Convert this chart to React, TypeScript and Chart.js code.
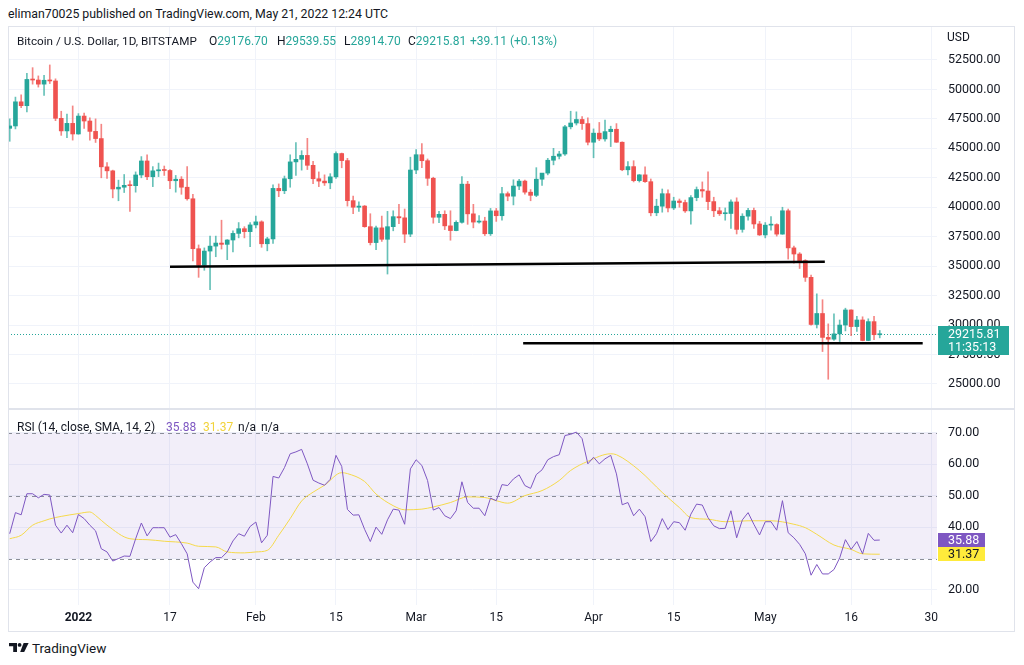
import React, { useEffect, useRef } from 'react';
import { Chart, registerables } from 'chart.js';

Chart.register(...registerables);
Chart.defaults.font.family = 'Roboto, sans-serif';

// ---------- data (daily candles, Dec 20 2021 = index 0 ... May 21 2022 = index 152) ----------
const opens = [
  46700, 46900, 48950, 48620, 50850, 50800, 50450, 50780, 50720, 47550, 46480, 47120,
  46220, 47740, 47320, 46440, 45830, 43430, 43090, 41550, 41700, 41860, 41830, 42740, 43930, 42590, 43090, 43180, 43120, 42250, 42380, 41700, 40720, 36480, 35080, 36280, 36700, 36960, 36850, 37220, 37780, 38180, 37930,
  38500, 38760, 36900, 37310, 41600, 41400, 42420, 43850, 44070, 44400, 43560, 42420, 42220, 42070, 42580, 44560, 43960, 40560, 40000, 40100, 38350, 37000, 38250, 37280, 38350, 39200, 39100, 37720,
  43160, 44460, 43950, 42460, 39150, 39400, 38420, 38020, 38720, 41960, 39440, 38740, 38830, 37750, 39690, 39280, 41150, 40940, 41800, 42220, 41280, 41010, 42380, 42900, 43990, 44330, 44520, 46830, 47150, 47450, 47100,
  45520, 46290, 45800, 46420, 46620, 45520, 43180, 43450, 42260, 42750, 42170, 39530, 40090, 41150, 39940, 40530, 40400, 39690, 40820, 41500, 41380, 40480, 39700, 39450, 39470, 40450, 38120, 39240, 39730, 38580,
  37650, 38480, 38530, 37720, 39700, 36550, 36030, 35470, 34050, 30050, 30980, 28950, 28800, 29250, 30000, 31280, 29870, 30430, 28690, 30290, 29176.7,
];
const highs = [
  47500, 49350, 49550, 51370, 51850, 51150, 51200, 52080, 50900, 48150, 47900, 48600,
  47950, 47990, 47600, 47500, 47050, 43800, 43150, 42300, 42780, 42250, 43000, 44300, 44450, 43450, 43750, 43500, 43200, 42700, 42600, 43450, 41100, 36800, 36550, 37550, 37550, 38900, 37250, 38000, 38700, 38350, 38700,
  39250, 38850, 37450, 41900, 41980, 42650, 44450, 45480, 44800, 45850, 43900, 43000, 42750, 42850, 44700, 44600, 44150, 40950, 40450, 40150, 39450, 38400, 39250, 39650, 39700, 40250, 39850, 44250,
  44900, 45400, 44100, 42550, 39650, 39700, 39700, 38850, 42600, 42200, 40250, 39300, 39150, 39900, 39900, 41700, 41300, 42330, 42370, 42300, 41500, 43360, 42850, 44150, 45000, 44750, 46950, 48150, 48100, 47700, 47600,
  46650, 47200, 47400, 46880, 47100, 45550, 43880, 43950, 42780, 43430, 42400, 40680, 41550, 41480, 40850, 40700, 40600, 41000, 41720, 42150, 43000, 40850, 39980, 39940, 40620, 40800, 39450, 39900, 39930, 38800,
  38700, 39200, 38600, 40000, 39850, 36700, 36150, 35550, 34250, 32650, 32150, 30100, 30950, 30430, 31430, 31300, 30750, 30700, 30530, 30750, 29539.55,
];
const lows = [
  45600, 46650, 48450, 48100, 50450, 50200, 49500, 50500, 47350, 46100, 45900, 45700,
  46200, 46700, 45700, 45500, 42500, 42450, 40800, 40550, 41250, 39650, 41280, 42500, 42350, 41750, 42600, 42700, 41580, 41280, 41100, 40600, 35450, 34050, 34650, 33000, 35800, 36450, 35550, 36200, 37400, 37400, 36650,
  38250, 36600, 36300, 36920, 40900, 41150, 41700, 42700, 43150, 43200, 42000, 41750, 41850, 41570, 42450, 43350, 40100, 39450, 39650, 38300, 36800, 36400, 37100, 34330, 38000, 38600, 37000, 37500,
  42850, 43350, 41850, 38650, 38700, 38100, 37200, 38000, 38650, 38550, 38250, 38650, 37600, 37600, 38800, 38900, 40550, 40200, 41500, 41100, 40550, 40900, 41850, 42750, 43600, 44100, 44400, 46650, 46980, 46600, 45300,
  44200, 45650, 45600, 45150, 45500, 43100, 42750, 42150, 42140, 42100, 39270, 39280, 39580, 39600, 39800, 40000, 39560, 38560, 40550, 40850, 39800, 39200, 39300, 38900, 38200, 37730, 37880, 38900, 38200, 37600,
  37400, 38050, 37550, 37700, 35600, 35250, 34800, 33700, 30000, 29750, 27750, 25400, 28700, 28600, 29500, 29100, 29450, 28660, 28670, 28750, 28914.7,
];
const closes = [
  46900, 48950, 48620, 50850, 50800, 50450, 50780, 50720, 47550, 46480, 47120, 46220,
  47740, 47320, 46440, 45830, 43430, 43090, 41550, 41700, 41860, 41830, 42740, 43930, 42590, 43090, 43180, 43120, 42250, 42380, 41700, 40720, 36480, 35080, 36280, 36700, 36960, 36850, 37220, 37780, 38180, 37930, 38500,
  38760, 36900, 37310, 41600, 41400, 42420, 43850, 44070, 44400, 43560, 42420, 42220, 42070, 42580, 44560, 43960, 40560, 40000, 40100, 38350, 37000, 38250, 37280, 38350, 39200, 39100, 37720, 43160,
  44460, 43950, 42460, 39150, 39400, 38420, 38020, 38720, 41960, 39440, 38740, 38830, 37750, 39690, 39280, 41150, 40940, 41800, 42220, 41280, 41010, 42380, 42900, 43990, 44330, 44520, 46830, 47150, 47450, 47100, 45520,
  46290, 45800, 46420, 46620, 45520, 43180, 43450, 42260, 42750, 42170, 39530, 40090, 41150, 39940, 40530, 40400, 39690, 40820, 41500, 41380, 40480, 39700, 39450, 39470, 40450, 38120, 39240, 39730, 38580, 37650,
  38480, 38530, 37720, 39700, 36550, 36030, 35470, 34050, 30050, 30980, 28950, 28800, 29250, 30000, 31280, 29870, 30430, 28690, 30290, 29180, 29215.81,
];

const rsiValues = [
  37.9, 44.6, 43.9, 50.6, 50.6, 49.3, 50.4, 50.2, 40.6, 38.1, 40.6, 38.2,
  44.0, 42.7, 40.6, 38.8, 33.1, 32.1, 29.2, 30.0, 30.8, 30.7, 36.3, 41.3, 37.2, 39.8, 39.8, 39.8, 36.8, 37.6, 34.7, 31.5, 22.5, 20.4, 27.1, 28.9, 30.3, 30.3, 32.1, 35.6, 37.9, 37.1, 40.2,
  41.6, 35.0, 37.4, 56.1, 55.6, 58.9, 63.3, 63.9, 64.7, 60.1, 54.9, 54.0, 53.3, 55.2, 62.8, 59.3, 45.6, 43.8, 43.9, 39.3, 35.4, 40.0, 37.7, 42.3, 45.7, 45.4, 40.9, 58.5,
  61.4, 59.6, 54.8, 45.4, 46.2, 43.6, 42.7, 45.2, 54.4, 47.8, 46.0, 46.0, 43.6, 49.2, 48.4, 53.5, 53.2, 55.3, 56.6, 53.2, 52.3, 56.7, 58.2, 61.4, 62.4, 63.0, 69.1, 69.5, 70.2, 68.1, 60.1,
  62.2, 60.1, 61.7, 62.8, 56.9, 47.1, 47.8, 43.6, 45.7, 43.3, 35.4, 37.9, 42.7, 39.2, 41.7, 41.4, 39.0, 44.1, 47.3, 47.0, 43.0, 40.4, 39.5, 39.6, 45.2, 36.6, 42.3, 44.6, 40.9, 37.5,
  41.7, 41.7, 39.0, 48.4, 38.2, 36.6, 34.5, 31.5, 24.7, 28.1, 25.1, 25.1, 26.5, 30.2, 36.0, 32.9, 35.4, 31.5, 38.0, 35.8, 35.88,
];

const smaIndex = [0, 2, 4, 6, 7, 9, 12, 14, 15, 17, 21, 24, 27, 31, 33, 36, 38, 41, 43, 45, 47, 49, 51, 53, 55, 58, 59, 62, 64, 67, 69, 72, 74, 77, 80, 83, 85, 87, 90, 93, 96, 98, 101, 105, 106, 110, 114, 117, 119, 122, 125, 129, 133, 137, 139, 141, 144, 147, 149, 152];
const smaValues = [36.3, 37.4, 40.6, 42.0, 42.6, 43.4, 44.3, 44.8, 43.7, 40.6, 36.3, 36.0, 35.5, 34.9, 33.9, 33.7, 32.1, 31.8, 32.1, 32.6, 37.4, 42.7, 48.3, 51.1, 53.3, 57.3, 57.0, 54.5, 50.5, 46.8, 45.5, 45.7, 46.4, 47.8, 49.6, 49.4, 48.4, 47.6, 50.0, 51.6, 54.8, 58.0, 60.9, 63.3, 63.0, 58.0, 51.0, 46.2, 43.0, 42.5, 41.7, 42.0, 42.0, 40.9, 39.8, 37.7, 34.3, 32.9, 31.5, 31.37];

const tickIndex = [12, 28, 43, 57, 71, 85, 102, 116, 132, 147, 161];
const tickLabels = ['2022', '17', 'Feb', '15', 'Mar', '15', 'Apr', '15', 'May', '16', '30'];
const priceTicks = [25000, 27500, 30000, 32500, 35000, 37500, 40000, 42500, 45000, 47500, 50000, 52500];
const rsiTicks = [20, 30, 40, 50, 60, 70];
const rsiBandLevels = [70, 50, 30];

const support1Index = [28.0, 142.4];
const support1Price = [34950, 35370];
const support2Index = [89.7, 159.5];
const support2Price = [28450, 28450];

const countdownText = '11:35:13';
const lastClose = closes[closes.length - 1];
const lastRsi = rsiValues[rsiValues.length - 1];
const lastSma = smaValues[smaValues.length - 1];

// ---------- style ----------
const X_MIN = -0.3;
const X_MAX = 162;
const PRICE_MIN = 22958;
const PRICE_MAX = 55301;
const RSI_MIN = 15.23;
const RSI_MAX = 77.22;
const UP = '#26a69a';
const DOWN = '#ef5350';
const UP_WICK = 'rgba(38, 166, 154, 0.7)';
const DOWN_WICK = 'rgba(239, 83, 80, 0.7)';
const GRID = '#f0f3fa';
const TEXT = '#131722';
const RSI_COLOR = '#7e57c2';
const SMA_COLOR = '#f5d94a';
const SMA_BOX = '#ffeb3b';
const AXIS_W = 78;
const AXIS_FONT = 12.5;

const priceOverlay = {
  id: 'priceOverlay',
  beforeDatasetsDraw(chart: any) {
    const { ctx, chartArea, scales } = chart;
    const y = Math.round(scales.y.getPixelForValue(lastClose)) + 0.5;
    ctx.save();
    ctx.strokeStyle = UP;
    ctx.lineWidth = 1;
    ctx.setLineDash([1, 2]);
    ctx.beginPath();
    ctx.moveTo(chartArea.left, y);
    ctx.lineTo(chartArea.right, y);
    ctx.stroke();
    ctx.restore();
  },
  afterDraw(chart: any) {
    const { ctx, chartArea, scales } = chart;
    const y = scales.y.getPixelForValue(lastClose);
    ctx.save();
    ctx.fillStyle = UP;
    ctx.fillRect(chartArea.right + 1, Math.round(y) - 8, 71, 29);
    ctx.fillStyle = '#ffffff';
    ctx.font = AXIS_FONT + 'px Roboto, sans-serif';
    ctx.textBaseline = 'middle';
    ctx.textAlign = 'left';
    ctx.fillText(lastClose.toFixed(2), chartArea.right + 11, Math.round(y) + 0.5);
    ctx.fillText(countdownText, chartArea.right + 11, Math.round(y) + 13.5);
    ctx.restore();
  },
};

const rsiOverlay = {
  id: 'rsiOverlay',
  beforeDatasetsDraw(chart: any) {
    const { ctx, chartArea, scales } = chart;
    const yTop = scales.y.getPixelForValue(rsiBandLevels[0]);
    const yBot = scales.y.getPixelForValue(rsiBandLevels[2]);
    ctx.save();
    ctx.fillStyle = 'rgba(126, 87, 194, 0.1)';
    ctx.fillRect(chartArea.left, yTop, chartArea.right - chartArea.left, yBot - yTop);
    ctx.strokeStyle = 'rgba(120, 123, 134, 0.85)';
    ctx.lineWidth = 1;
    ctx.setLineDash([4, 4]);
    rsiBandLevels.forEach((lv) => {
      const y = Math.round(scales.y.getPixelForValue(lv)) + 0.5;
      ctx.beginPath();
      ctx.moveTo(chartArea.left, y);
      ctx.lineTo(chartArea.right, y);
      ctx.stroke();
    });
    ctx.restore();
  },
  afterDraw(chart: any) {
    const { ctx, chartArea, scales } = chart;
    const y1 = Math.round(scales.y.getPixelForValue(lastRsi));
    const y2 = Math.round(scales.y.getPixelForValue(lastSma));
    ctx.save();
    ctx.font = AXIS_FONT + 'px Roboto, sans-serif';
    ctx.textBaseline = 'middle';
    ctx.textAlign = 'left';
    ctx.fillStyle = RSI_COLOR;
    ctx.fillRect(chartArea.right + 1, y1 - 7, 47, 14);
    ctx.fillStyle = SMA_BOX;
    ctx.fillRect(chartArea.right + 1, y2 - 7, 47, 14);
    ctx.fillStyle = '#ffffff';
    ctx.fillText(lastRsi.toFixed(2), chartArea.right + 11, y1 + 0.5);
    ctx.fillStyle = TEXT;
    ctx.fillText(lastSma.toFixed(2), chartArea.right + 11, y2 + 0.5);
    ctx.restore();
  },
};

function priceConfig(): any {
  const bodies = opens.map((o, i) => ({ x: i, y: [o, closes[i]] }));
  const wicks = opens.map((o, i) => ({ x: i, y: [lows[i], highs[i]] }));
  const colors = opens.map((o, i) => (closes[i] >= o ? UP : DOWN));
  const wickColors = opens.map((o, i) => (closes[i] >= o ? UP_WICK : DOWN_WICK));
  return {
    type: 'bar',
    data: {
      datasets: [
        {
          type: 'line',
          data: support1Index.map((x, k) => ({ x, y: support1Price[k] })),
          borderColor: '#000000',
          borderWidth: 2.5,
          pointRadius: 0,
          order: 0,
        },
        {
          type: 'line',
          data: support2Index.map((x, k) => ({ x, y: support2Price[k] })),
          borderColor: '#000000',
          borderWidth: 2.5,
          pointRadius: 0,
          order: 0,
        },
        {
          type: 'bar',
          data: bodies,
          backgroundColor: colors,
          borderWidth: 0,
          barThickness: 4,
          minBarLength: 1,
          grouped: false,
          order: 1,
        },
        {
          type: 'bar',
          data: wicks,
          backgroundColor: wickColors,
          borderWidth: 0,
          barThickness: 1,
          grouped: false,
          order: 2,
        },
      ],
    },
    options: {
      animation: false,
      responsive: false,
      maintainAspectRatio: false,
      layout: { padding: 0 },
      plugins: { legend: { display: false }, tooltip: { enabled: false } },
      scales: {
        x: {
          type: 'linear',
          min: X_MIN,
          max: X_MAX,
          offset: false,
          grid: { color: GRID, drawTicks: false, offset: false },
          border: { display: false },
          ticks: { display: false },
          afterBuildTicks: (s: any) => {
            s.ticks = tickIndex.map((v) => ({ value: v }));
          },
          afterFit: (s: any) => {
            s.height = 0;
            s.paddingLeft = 0;
            s.paddingRight = 0;
          },
        },
        y: {
          position: 'right',
          min: PRICE_MIN,
          max: PRICE_MAX,
          grid: { color: GRID, drawTicks: false },
          border: { display: false },
          ticks: {
            padding: 11,
            color: TEXT,
            font: { size: AXIS_FONT },
            callback: (v: any) => Number(v).toFixed(2),
          },
          afterBuildTicks: (s: any) => {
            s.ticks = priceTicks.map((v) => ({ value: v }));
          },
          afterFit: (s: any) => {
            s.width = AXIS_W;
            s.paddingTop = 0;
            s.paddingBottom = 0;
          },
        },
      },
    },
    plugins: [priceOverlay],
  };
}

function rsiConfig(): any {
  return {
    type: 'line',
    data: {
      datasets: [
        {
          data: rsiValues.map((v, i) => ({ x: i, y: v })),
          borderColor: RSI_COLOR,
          borderWidth: 1,
          pointRadius: 0,
          tension: 0,
          order: 0,
        },
        {
          data: smaIndex.map((x, k) => ({ x, y: smaValues[k] })),
          borderColor: SMA_COLOR,
          borderWidth: 1,
          pointRadius: 0,
          cubicInterpolationMode: 'monotone',
          order: 1,
        },
      ],
    },
    options: {
      animation: false,
      responsive: false,
      maintainAspectRatio: false,
      layout: { padding: 0 },
      plugins: { legend: { display: false }, tooltip: { enabled: false } },
      scales: {
        x: {
          type: 'linear',
          min: X_MIN,
          max: X_MAX,
          offset: false,
          grid: { color: GRID, drawTicks: false },
          border: { display: false },
          ticks: {
            autoSkip: false,
            maxRotation: 0,
            padding: 6,
            color: TEXT,
            font: (ctx: any) => ({ size: 12, weight: ctx.tick && ctx.tick.value === tickIndex[0] ? 'bold' : 'normal' }),
            callback: (v: any) => {
              const k = tickIndex.indexOf(Number(v));
              return k >= 0 ? tickLabels[k] : null;
            },
          },
          afterBuildTicks: (s: any) => {
            s.ticks = tickIndex.map((v) => ({ value: v }));
          },
          afterFit: (s: any) => {
            s.height = 27;
            s.paddingLeft = 0;
            s.paddingRight = 0;
          },
        },
        y: {
          position: 'right',
          min: RSI_MIN,
          max: RSI_MAX,
          grid: { color: GRID, drawTicks: false },
          border: { display: false },
          ticks: {
            padding: 11,
            color: TEXT,
            font: { size: AXIS_FONT },
            callback: (v: any) => (Number(v) === 30 ? '' : Number(v).toFixed(2)),
          },
          afterBuildTicks: (s: any) => {
            s.ticks = rsiTicks.map((v) => ({ value: v }));
          },
          afterFit: (s: any) => {
            s.width = AXIS_W;
            s.paddingTop = 0;
            s.paddingBottom = 0;
          },
        },
      },
    },
    plugins: [rsiOverlay],
  };
}

const abs = (left: number, top: number, extra: any = {}) => ({ position: 'absolute' as const, left, top, ...extra });
const line = (left: number, top: number, width: number, height: number) => (
  <div style={abs(left, top, { width, height, background: '#e0e3eb' })} />
);

export default function App() {
  const priceRef = useRef<HTMLCanvasElement>(null);
  const rsiRef = useRef<HTMLCanvasElement>(null);

  useEffect(() => {
    const c1 = new Chart(priceRef.current as HTMLCanvasElement, priceConfig());
    const c2 = new Chart(rsiRef.current as HTMLCanvasElement, rsiConfig());
    return () => {
      c1.destroy();
      c2.destroy();
    };
  }, []);

  const txt = { fontSize: 12, lineHeight: '16px', height: 16, whiteSpace: 'nowrap' as const };
  const green = { color: UP };

  return (
    <div
      style={{
        position: 'absolute',
        left: 0,
        top: 0,
        width: 1024,
        height: 665,
        background: '#ffffff',
        fontFamily: 'Roboto, sans-serif',
        color: TEXT,
        overflow: 'hidden',
      }}
    >
      <div style={abs(8, 6, { fontSize: 12.3, lineHeight: '16px', whiteSpace: 'nowrap' })}>
        eliman70025 published on TradingView.com, May 21, 2022 12:24 UTC
      </div>

      <canvas ref={priceRef} width={1007} height={381} style={abs(8, 27, { width: 1007, height: 381 })} />
      <canvas ref={rsiRef} width={1007} height={222} style={abs(8, 410, { width: 1007, height: 222 })} />

      {line(8, 26, 1007, 1)}
      {line(8, 26, 1, 606)}
      {line(1014, 26, 1, 606)}
      {line(8, 631, 1007, 1)}
      {line(8, 408, 1007, 2)}

      <div style={abs(17, 33, { ...txt, fontSize: 11.7 })}>Bitcoin / U.S. Dollar, 1D, BITSTAMP</div>
      <div style={abs(209, 33, txt)}>O<span style={green}>29176.70</span></div>
      <div style={abs(277, 33, txt)}>H<span style={green}>29539.55</span></div>
      <div style={abs(344, 33, txt)}>L<span style={green}>28914.70</span></div>
      <div style={abs(408, 33, txt)}>C<span style={green}>29215.81</span></div>
      <div style={abs(470, 33, { ...txt, ...green })}>+39.11 (+0.13%)</div>
      <div style={abs(947, 29, txt)}>USD</div>

      <div style={abs(17, 419, txt)}>RSI (14, close, SMA, 14, 2)</div>
      <div style={abs(166, 419, { ...txt, color: RSI_COLOR })}>35.88</div>
      <div style={abs(203, 419, { ...txt, color: '#f2d33c' })}>31.37</div>
      <div style={abs(238, 419, txt)}>n/a</div>
      <div style={abs(261, 419, txt)}>n/a</div>

      <svg style={abs(9, 643)} width={20} height={9} viewBox="0 0 20 9">
        <path d="M0 0H8V9H4.2V3.3H0Z" fill={TEXT} />
        <circle cx="10.6" cy="1.9" r="1.9" fill={TEXT} />
        <path d="M14.6 0H19.6L15.2 9H11.2Z" fill={TEXT} />
      </svg>
      <div style={abs(32, 640, { fontSize: 13.5, lineHeight: '16px', whiteSpace: 'nowrap' })}>TradingView</div>
    </div>
  );
}
